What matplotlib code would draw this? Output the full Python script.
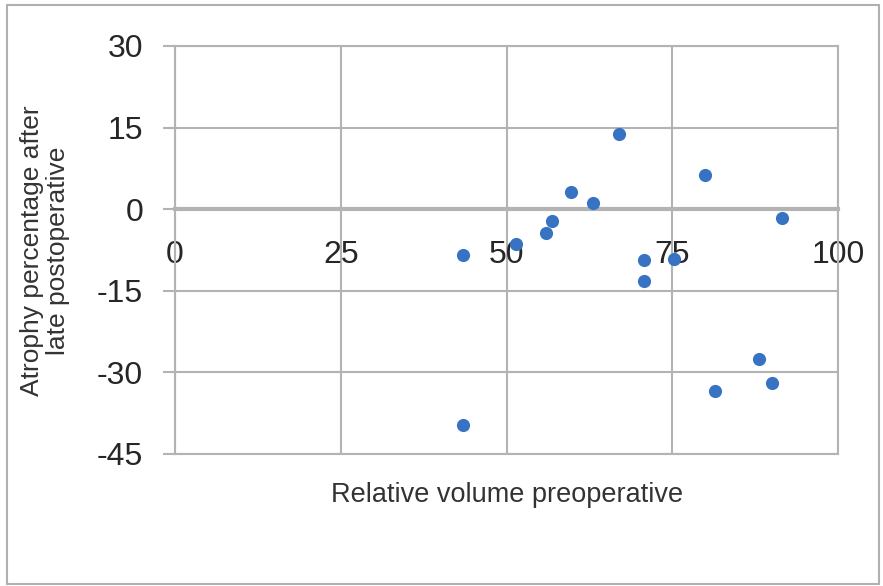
import matplotlib
matplotlib.use("Agg")
import matplotlib.pyplot as plt

# values
relative_volume = [43.4, 51.5, 55.9, 56.8, 59.8, 63.0, 67.0, 70.8, 70.7, 75.2,
                   79.9, 91.5, 43.4, 81.4, 88.1, 90.0]
atrophy_pct = [-8.4, -6.4, -4.4, -2.1, 3.2, 1.1, 13.8, -9.3, -13.2, -9.2,
               6.3, -1.7, -39.7, -33.5, -27.6, -31.9]
x_ticks = [0, 25, 50, 75, 100]
y_ticks = [-45, -30, -15, 0, 15, 30]

plt.rcParams["font.family"] = ["Liberation Sans", "DejaVu Sans"]
plt.rcParams["axes.unicode_minus"] = False
grid_col = "#b3b3b3"
txt_col = "#262626"

fig = plt.figure(figsize=(8.83, 5.86), dpi=100)
ax = fig.add_axes([175 / 883, 1 - 454 / 586, 663 / 883, 408 / 586])

ax.scatter(relative_volume, atrophy_pct, s=90, color="#3873c3", zorder=3,
           linewidths=0)

ax.set_xlim(0, 100)
ax.set_ylim(-45, 30)
ax.set_xticks(x_ticks)
ax.set_yticks(y_ticks)
ax.grid(True, color=grid_col, linewidth=1.5)
ax.set_axisbelow(True)

# axis crosses at zero like the Excel original
ax.spines["bottom"].set_position(("data", 0))
for side in ["left", "bottom", "top", "right"]:
    ax.spines[side].set_color(grid_col)
    ax.spines[side].set_linewidth(1.5)
ax.spines["bottom"].set_linewidth(3)
ax.axhline(-45, color=grid_col, linewidth=1.5, clip_on=False)

ax.tick_params(axis="y", length=9, width=1.5, color=grid_col, labelsize=23,
               labelcolor=txt_col, pad=14)
ax.tick_params(axis="x", length=0, labelsize=23, labelcolor=txt_col, pad=22)

fig.text(507 / 883, 1 - 495 / 586, "Relative volume preoperative",
         ha="center", va="center", fontsize=19.5, color="#333333")
fig.text(45 / 883, 1 - 251 / 586, "Atrophy percentage after\nlate postoperative",
         ha="center", va="center", rotation=90, fontsize=19, color="#333333",
         linespacing=1.15)

# outer frame
fig.add_artist(plt.Rectangle((7 / 883, 2 / 586), 872 / 883, 579 / 586,
                             fill=False, edgecolor="#b0b0b0", linewidth=1.5,
                             transform=fig.transFigure))

fig.savefig("out.png", dpi=100)
